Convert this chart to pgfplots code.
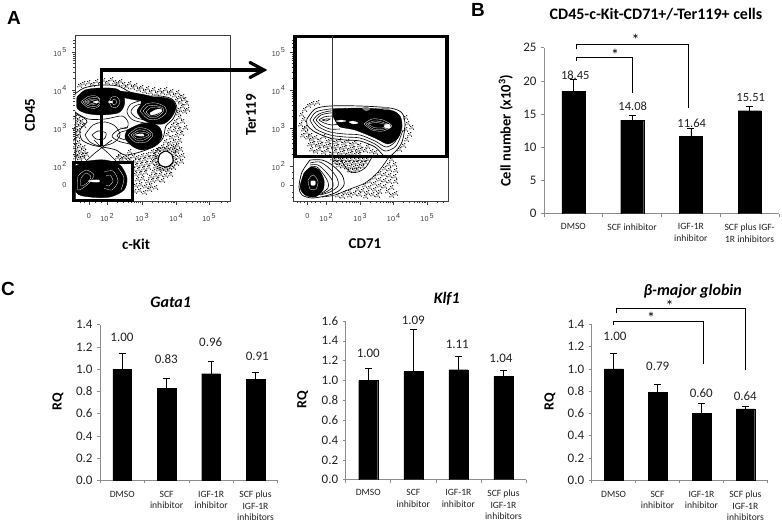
\documentclass[border=0pt]{standalone}
\usepackage{pgfplots}
\pgfplotsset{compat=1.18}
\usepackage{fontspec}
\setmainfont{Carlito}
\newfontfamily\arial{Liberation Sans}
\usetikzlibrary{arrows.meta}
\newcommand{\ex}[1]{10\raisebox{3.5pt}{\hspace{1pt}#1}}
\definecolor{axg}{HTML}{8C8C8C}
\definecolor{txt}{HTML}{222222}
\pgfplotsset{
 flow/.style={scale only axis,width=155pt,height=166pt,anchor=north west,
  ymin=35.7,ymax=201.7,y dir=reverse,
  axis line style={black!75,line width=.45pt},
  tick align=outside,xtick pos=bottom,ytick pos=left,
  major tick length=3pt,minor tick length=1.6pt,
  tick style={black!75,line width=.35pt},
  ytick={52,90,128,166,185},
  yticklabels={\ex{5},\ex{4},\ex{3},\ex{2},0},
  minor ytick={40.6,43,47,78.6,71.9,67.1,63.4,60.4,57.9,55.7,53.7,116.6,109.9,105.1,101.4,98.4,95.9,93.7,91.7,154.6,147.9,143.1,139.4,136.4,133.9,131.7,129.7,172,178,192,197},
  xticklabels={0,\ex{2},\ex{3},\ex{4},\ex{5}},
  tick label style={font=\arial\fontsize{7.2}{8}\selectfont,text=black!75},
  xticklabel style={yshift=-5pt},
  yticklabel style={xshift=-2pt},
 },
 ct/.style={smooth,black,line width=.6pt},
 wt/.style={smooth,white,line width=.28pt},
 bk/.style={smooth,black,fill=black,line width=.3pt},
 wf/.style={smooth,black,fill=white,line width=.7pt},
 wc/.style={smooth,white,fill=white,line width=.2pt},
 dots/.style={only marks,mark=*,mark size=.32pt,mark options={black,draw=none,fill=black}},
 bars/.style={scale only axis,anchor=south west,axis lines=left,axis line style={-,axg,line width=.7pt},
  xmin=-.5,xmax=3.5,ymin=0,xtick={0,1,2,3},enlargelimits=false,
  minor xtick={-.5,.5,1.5,2.5,3.5},tick align=outside,
  major tick length=3pt,minor tick length=3pt,
  major x tick style={draw=none},minor x tick style={axg,line width=.6pt},
  y tick style={axg,line width=.6pt},
  ybar,
  /pgf/number format/assume math mode=true,
  yticklabel style={font=\fontsize{13}{14}\selectfont,text=txt,xshift=-1pt},
  x tick label style={align=center,anchor=north,text=txt},
 },
 bp/.style={black,fill=black,line width=.2pt,
  error bars/.cd,y dir=plus,y explicit,
  error bar style={black,line width=.7pt},
  error mark options={rotate=90,black,mark size=3.4pt,line width=.7pt}},
}
\newcommand{\DOTS}[1]{%
 \addplot[dots] coordinates {#1};
 \addplot[dots,xshift=1.6pt,yshift=-1.2pt] coordinates {#1};
 \addplot[dots,xshift=-1.3pt,yshift=1.5pt] coordinates {#1};
 \addplot[dots,xshift=.7pt,yshift=2.3pt] coordinates {#1};
 \addplot[dots,xshift=-2.1pt,yshift=-.8pt] coordinates {#1};}
\begin{document}
\begin{tikzpicture}
\path[use as bounding box] (0,0) rectangle (782pt,-522pt);

%%% A left
\begin{axis}[flow,at={(75pt,-35.7pt)},xmin=75,xmax=230,
 xtick={89,107,142,176,209},
 minor xtick={80,84,95,101,117.4,123.5,127.8,131.1,133.8,136.2,138.2,139.9,151.9,158,162.3,165.6,168.3,170.7,172.7,174.4,186.4,192.5,196.8,200.1,202.8,205.2,207.2,220.9,227}]
\DOTS{(80,86)(84,84)(89,83)(93,85)(97,82)(101,84)(104,81)(108,83)(112,80)(115,83)(118,84)(121,82)(124,85)(127,87)(130,84)(133,88)(136,86)(139,90)(142,88)(145,92)(148,89)(151,93)(154,90)(157,94)(160,91)(163,93)(166,90)(169,94)(172,92)(175,96)(178,93)(180,98)(177,101)(183,97)(181,103)(185,100)(183,107)(187,104)(180,110)(185,112)(179,114)(188,110)
(176,122)(180,118)(173,126)(178,126)(183,122)(170,130)(175,131)(180,130)(168,135)(172,138)(177,136)(182,134)(166,142)(170,144)(175,142)(180,141)(186,128)(163,147)(168,148)(173,147)(178,146)
(158,150)(153,152)(148,155)(143,156)(138,158)(134,157)(130,160)(128,158)(135,162)(140,161)(145,160)(150,158)(155,157)(137,166)(142,165)(147,164)(152,163)(156,167)(134,170)(139,170)(144,169)(149,168)(154,172)(159,170)(164,170)(169,171)(174,168)(177,164)(179,158)(177,152)(175,148)(181,150)(183,156)(182,162)(136,175)(141,174)(146,173)(151,177)(156,176)(161,175)(166,176)(171,175)(138,180)(143,179)(148,182)(153,181)(158,180)(163,181)(136,186)(141,185)(146,187)(151,186)(156,188)(135,192)(140,191)(145,193)(150,190)
(157,152)(155,155)(157,158)(155,161)(157,164)(159,168)(162,169)(166,169)(170,168)(172,166)(175,162)(175,158)(175,154)(174,151)(170,150)(166,149)(162,150)(159,150)
(76,118)(79,120)(82,122)(77,124)(80,126)(84,126)(76,129)(79,131)(76,134)(78,137)(76,140)(79,143)(76,146)(80,147)(84,148)(77,150)(81,152)(85,152)(76,154)(79,156)(83,156)(87,155)(76,158)(80,159)(84,158)
(120,156)(125,158)(130,152)(122,160)(118,158)}
% envelope
\addplot[wf] coordinates {(75,94)(84,88)(100,85)(118,86)(130,92)(145,96)(160,96)(172,99)(177,108)(173,119)(166,126)(163,138)(155,146)(140,152)(125,155)(116,150)(108,148)(102,147)(92,145)(82,140)(80,130)(87,122)(84,118)(75,112)(75,94)};
\addplot[ct] coordinates {(86,161)(95,153)(104,146)(112,140)};
\addplot[ct] coordinates {(116,161)(108,153)(100,146)(94,140)};
\addplot[ct] coordinates {(85,135)(93,125)(105,122)(115,126)(120,135)(113,143)(100,146)(90,142)(85,135)};
\addplot[ct] coordinates {(92,135)(98,131)(106,133)(104,139)(96,139)(92,135)};
\addplot[ct] coordinates {(75,112)(88,119)(105,119)(122,116)(128,122)(127,128)(120,128)};
% top-left lobe
\addplot[bk] coordinates {(77,97)(85,90)(100,88)(117,89)(124,97)(124,106)(118,113)(100,115)(85,113)(77,108)(77,97)};
\addplot[wt] coordinates {(81,102)(88,96.5)(96,96)(102,102)(96,108)(88,107.5)(81,102)};
\addplot[wt] coordinates {(83,102)(90,98)(98,98)(100,102)(97,106)(89,106)(83,102)};
\addplot[wt] coordinates {(85,102)(91,99.5)(97,100)(98,102)(96,104)(90,104.5)(85,102)};
\addplot[wt] coordinates {(87,102)(92,100.5)(96,102)(92,103.5)(87,102)};
\addplot[wt] coordinates {(109,102)(112,97)(117,97)(120,102)(117,107)(112,107)(109,102)};
\addplot[wt] coordinates {(111,102)(114,99)(117,102)(114,105)(111,102)};
\addplot[wc] coordinates {(93,102)(96,101)(99,102)(96,103)(93,102)};
\addplot[wc] coordinates {(108,102)(111,101)(113,102)(111,103)(108,102)};
% band + right lobe
\addplot[bk] coordinates {(120,91)(135,93)(150,96)(160,100)(150,102)(130,99)(120,96)(120,91)};
\addplot[ct] coordinates {(143,100)(131,104)(127,112)(133,120)(150,124)};
\addplot[ct] coordinates {(145,103)(135,106)(131,112)(137,118)(150,121)};
\addplot[bk] coordinates {(141,98)(160,97)(172,100)(176,108)(171,118)(163,124)(150,123)(141,118)(137,111)(141,104)(141,98)};
\addplot[wt] coordinates {(140,111)(146,104)(156,103)(165,107)(166,113)(158,119)(148,119)(140,111)};
\addplot[wt] coordinates {(143,111)(148,106)(156,105.5)(163,108)(163,112)(157,117)(149,117)(143,111)};
\addplot[wt] coordinates {(146,112)(150,108)(157,107)(162,109)(160,113)(156,115.5)(150,116)(146,112)};
\addplot[wc] coordinates {(150,113)(155,110)(160,109)(162,111)(156,114)(151,115)(150,113)};
% lower lobe
\addplot[ct] coordinates {(128,127)(118,130)(112,136)(118,141)(130,144)};
\addplot[ct] coordinates {(130,130)(121,132)(117,136)(122,139)(132,141)};
\addplot[bk] coordinates {(127,130)(140,124)(152,123)(160,128)(162,137)(155,146)(142,150)(132,146)(125,138)(127,130)};
\addplot[wt] coordinates {(128,135)(137,128)(147,129)(153,135)(146,142)(135,142)(128,135)};
\addplot[wt] coordinates {(131,135)(138,130)(146,131)(151,135)(144,140)(136,140)(131,135)};
\addplot[wt] coordinates {(133,135)(139,132)(146,133)(149,135)(143,138)(136,138)(133,135)};
\addplot[wc] coordinates {(135,135)(139,134)(143,134)(144,136)(139,136)(135,135)};
% bottom population
\addplot[bk] coordinates {(75,166)(88,161)(105,160)(120,165)(127,178)(124,190)(110,197)(90,197)(76,192)(75,166)};
\addplot[wt] coordinates {(78,176)(86,170)(94,175)(88,184)(78,190)(78,176)};
\addplot[wt] coordinates {(81,178)(86,173)(91,177)(87,183)(81,186)(81,178)};
\addplot[wt] coordinates {(104,172)(113,171)(118,181)(112,190)(104,188)};
\addplot[wt] coordinates {(106,176)(110,175)(113,181)(109,186)(106,185)};
\addplot[wt] coordinates {(118,168)(124,178)(121,190)};
\addplot[wc] coordinates {(88,181)(93,180)(99,180)(99,182)(93,182)(88,181)};
% hole
\addplot[smooth,black,fill=white,line width=1.1pt] coordinates {(160,154)(166,151)(172,155)(173,162)(167,167)(160,165)(158,160)(160,154)};
\end{axis}

%%% A right
\begin{axis}[flow,at={(293.3pt,-35.7pt)},xmin=293.3,xmax=448.3,
 xtick={307.3,326,360,393.5,427},
 minor xtick={297,300,304,311,315,320,336.1,342,346.2,349.4,352.1,354.3,356.3,358,370.1,376,380.2,383.4,386.1,388.3,390.3,392,403.6,409.5,413.7,416.9,419.6,421.8,423.8,425.5,437.1,443}]
\DOTS{(302,115)(304,120)(301,125)(304,130)(307,133)(303,136)(308,138)(311,136)(306,128)(305,110)(309,106)(313,104)(318,103)
(312,140)(316,138)(320,141)(324,137)(328,142)(332,140)(336,143)(340,141)(344,144)(348,142)(352,145)(356,143)(360,146)(310,145)(314,144)(318,146)(322,145)(326,147)(330,146)(334,148)(338,147)(342,149)(346,148)(350,150)(354,149)(358,151)(362,150)(366,151)(312,150)(316,152)(320,150)(324,153)(328,151)(332,154)(336,152)(340,154)(344,153)(348,155)(352,154)(356,155)(360,155)(368,147)(372,152)(376,153)
(406,118)(408,124)(406,130)(410,135)(407,140)(404,146)(400,150)(412,128)
(336,160)(340,160)(344,160)(348,160)(352,160)(356,160)(360,160)(364,160)(368,160)(338,163)(342,163)(346,164)(350,163)(354,164)(358,163)(362,164)(366,163)(343,167)(347,168)(351,167)(355,168)(359,167)(363,167)(350,171)(354,171)(358,170)(333,159)(335,163)(339,166)
(392,160)(389,165)(395,165)(385,169)(390,170)(396,171)(380,174)(385,175)(390,176)(395,177)(375,178)(380,180)(385,181)(390,182)(396,182)(370,182)(375,184)(380,186)(385,187)(392,188)(365,186)(370,188)(375,190)(380,192)(388,192)(396,194)(358,190)(363,191)(368,193)(373,195)(378,196)(350,192)(355,194)(360,195)(366,197)(345,193)(350,196)(338,196)(343,197)(392,196)}
% band
\addplot[wf] coordinates {(307,119)(315,109)(330,106)(360,106)(390,108)(402,113)(405,125)(402,142)(395,152)(387,158)(382,154)(375,147)(360,141)(345,140)(330,138)(315,132)(307,125)(307,119)};
\addplot[ct] coordinates {(310,120)(316,112)(330,109)(345,109)};
\addplot[ct] coordinates {(310,120)(316,129)(330,135)(345,137)(360,138)(375,144)(385,151)(396,146)(403,130)};
\addplot[ct] coordinates {(313,120)(319,114)(330,111)(345,111)};
\addplot[ct] coordinates {(313,120)(319,127)(330,132)(345,134)(360,135)(375,141)(386,147)(395,142)(401,130)};
\addplot[ct] coordinates {(316,120)(321,115)(330,113)(340,113)};
\addplot[ct] coordinates {(316,120)(321,125)(330,129)(340,129)};
\addplot[ct] coordinates {(319,120)(324,117)(332,116)(338,117)};
\addplot[ct] coordinates {(319,120)(324,123)(332,125)(338,124)};
\addplot[ct] coordinates {(322,120)(326,119)(330,119)(326,121)(322,120)};
\addplot[bk] coordinates {(333,109)(360,108)(390,110)(400,116)(402,127)(398,138)(388,144)(375,138)(355,130)(340,127)(336,122)(333,116)(333,109)};
\addplot[wc] coordinates {(336,121)(341,120)(346,121)(341,122)(336,121)};
\addplot[wc] coordinates {(349,122)(353,121)(358,123)(353,124)(349,122)};
\addplot[wt] coordinates {(364,124)(372,119)(383,120)(392,126)(383,131)(372,130)(364,124)};
\addplot[wt] coordinates {(366,124)(374,121)(382,122)(390,126)(382,129.5)(373,129)(366,124)};
\addplot[wt] coordinates {(368,124)(375,122.5)(382,123.5)(388,126)(382,128)(374,127.5)(368,124)};
\addplot[wc] coordinates {(384,126)(387,124)(390,125)(390,128)(386,128)(384,126)};
\addplot[smooth,gray,fill=gray,line width=.2pt] coordinates {(362,108)(367,107)(370,109)(366,111)(362,108)};
\addplot[smooth,gray,fill=gray,line width=.2pt] coordinates {(381,108)(386,107)(389,109)(385,110)(381,108)};
% lower lines
\addplot[ct] coordinates {(340,157)(344,165)(350,172)(358,172)(366,167)(372,157)};
\addplot[ct] coordinates {(389,157)(378,172)(365,183)(350,189)(335,195)(322,197)};
% bottom population
\addplot[wf] coordinates {(310,160)(322,160)(332,165)(342,175)(344,185)(337,192)(325,196)(312,198)(302,195)(299,187)(302,172)(310,160)};
\addplot[ct] coordinates {(310,163)(320,162)(330,169)(337,178)(338,186)(330,192)(320,195)};
\addplot[ct] coordinates {(310,165)(318,165)(326,172)(332,180)(333,187)(326,192)(318,195)};
\addplot[ct] coordinates {(310,167)(317,167)(324,175)(328,182)(328,188)(322,193)};
\addplot[bk] coordinates {(304,173)(311,167)(319,170)(324,180)(323,190)(315,197)(305,195)(300,187)(304,173)};
\addplot[wt] coordinates {(308,180)(313,175)(318,181)(316,189)(310,189)(308,180)};
\addplot[wc] coordinates {(311,181)(315,181)(315,185)(311,185)(311,181)};
\end{axis}

%%% B
\begin{axis}[bars,at={(544pt,-213.7pt)},width=235pt,height=166pt,ymax=25,ytick={0,5,...,25},
 bar width=23pt,
 xticklabels={DMSO,{SCF inhibitor},{IGF-1R\\inhibitor},{SCF plus IGF-\\1R inhibitors}},
 x tick label style={font=\fontsize{9.6}{11.7}\selectfont,yshift=-3.5pt},
 yticklabel style={font=\fontsize{13}{14}\selectfont}]
\addplot[bp] coordinates {(0,18.45) +- (0,1.75) (1,14.08) +- (0,.72) (2,11.64) +- (0,1.26) (3,15.51) +- (0,.59)};
\end{axis}

%%% C1
\begin{axis}[bars,at={(100pt,-480.3pt)},width=177.7pt,height=155.6pt,ymax=1.4,
 ytick={0,.2,...,1.41},bar width=18.7pt,
 yticklabel style={/pgf/number format/.cd,fixed,fixed zerofill,precision=1},
 xticklabels={DMSO,{SCF\\inhibitor},{IGF-1R\\inhibitor},{SCF plus\\IGF-1R\\inhibitors}},
 x tick label style={font=\fontsize{9.6}{11.7}\selectfont,yshift=-4pt}]
\addplot[bp] coordinates {(0,1) +- (0,.14) (1,.83) +- (0,.09) (2,.96) +- (0,.11) (3,.91) +- (0,.06)};
\end{axis}

%%% C2
\begin{axis}[bars,at={(345.7pt,-479.7pt)},width=180.3pt,height=158.7pt,ymax=1.6,
 ytick={0,.2,...,1.61},bar width=19pt,
 yticklabel style={/pgf/number format/.cd,fixed,fixed zerofill,precision=1},
 xticklabels={DMSO,{SCF\\inhibitor},{IGF-1R\\inhibitor},{SCF plus\\IGF-1R\\inhibitors}},
 x tick label style={font=\fontsize{9.6}{11.7}\selectfont,yshift=-3.5pt}]
\addplot[bp] coordinates {(0,1) +- (0,.12) (1,1.09) +- (0,.425) (2,1.11) +- (0,.13) (3,1.04) +- (0,.065)};
\end{axis}

%%% C3
\begin{axis}[bars,at={(591.7pt,-480.3pt)},width=175.6pt,height=156pt,ymax=1.4,
 ytick={0,.2,...,1.41},bar width=18.7pt,
 yticklabel style={/pgf/number format/.cd,fixed,fixed zerofill,precision=1},
 xticklabels={DMSO,{SCF\\inhibitor},{IGF-1R\\inhibitor},{SCF plus\\IGF-1R\\inhibitors}},
 x tick label style={font=\fontsize{9.6}{11.7}\selectfont,yshift=-4pt}]
\addplot[bp] coordinates {(0,1) +- (0,.14) (1,.79) +- (0,.07) (2,.60) +- (0,.09) (3,.64) +- (0,.02)};
\end{axis}

\begin{scope}[x=1pt,y=-1pt]
% gates
\draw[line width=3.4pt,miter limit=2] (73.5,162.5) rectangle (132.5,200.5);
\draw[line width=3.4pt] (295,36.5) rectangle (447,156.5);
\draw[black!80,line width=.5pt] (332.3,36) -- (332.3,201.7);
\draw[line width=3.2pt] (101.7,146) -- (101.7,70) -- (263,70);
\draw[line width=3.2pt,line cap=round] (250,62.5) -- (264,70) -- (250,77.5);
% letters
\node[font=\arial\bfseries\fontsize{19}{22}\selectfont] at (14,18) {A};
\node[font=\arial\bfseries\fontsize{19}{22}\selectfont] at (478,10) {B};
\node[font=\arial\bfseries\fontsize{19}{22}\selectfont] at (8,289) {C};
% panel A labels
\node[font=\bfseries\fontsize{15}{17}\selectfont,rotate=90] at (30,115) {CD45};
\node[font=\bfseries\fontsize{15}{17}\selectfont] at (136,244) {c-Kit};
\node[font=\bfseries\fontsize{15}{17}\selectfont,rotate=90] at (251,115) {Ter119};
\node[font=\bfseries\fontsize{15}{17}\selectfont] at (365,244) {CD71};
% B
\node[font=\bfseries\fontsize{16}{18}\selectfont] at (656,14) {CD45-c-Kit-CD71+/-Ter119+ cells};
\node[font=\bfseries\fontsize{14.5}{16}\selectfont,rotate=90] at (505.7,130.7) {Cell number (x10\textsuperscript{3})};
\begin{scope}[every node/.style={font=\fontsize{12.5}{14}\selectfont,text=txt}]
\node at (575.3,75) {18.45};
\node at (632.7,106.7) {14.08};
\node at (691.7,123.3) {11.64};
\node at (750.7,97.3) {15.51};
\end{scope}
\draw[line width=.8pt] (576,49.3) -- (576,44.3) -- (688.3,44.3) -- (688.3,108);
\draw[line width=.8pt] (576,61) -- (576,57.7) -- (632.3,57.7) -- (632.3,93.3);
\node[font=\fontsize{16}{18}\selectfont] at (635.7,39.5) {*};
\node[font=\fontsize{16}{18}\selectfont] at (615,54.5) {*};
% C titles etc
\node[font=\bfseries\itshape\fontsize{16}{18}\selectfont] at (170.7,302) {Gata1};
\node[font=\bfseries\itshape\fontsize{16}{18}\selectfont] at (446.7,299) {Klf1};
\node[font=\bfseries\itshape\fontsize{16}{18}\selectfont] at (692.7,291) {β-major globin};
\node[font=\bfseries\fontsize{14}{16}\selectfont,rotate=90] at (58,402) {RQ};
\node[font=\bfseries\fontsize{14}{16}\selectfont,rotate=90] at (302.7,400) {RQ};
\node[font=\bfseries\fontsize{14}{16}\selectfont,rotate=90] at (550,402) {RQ};
\begin{scope}[every node/.style={font=\fontsize{13}{14}\selectfont,text=txt}]
\node at (122,337.7) {1.00};
\node at (166.3,359) {0.83};
\node at (210.7,342.3) {0.96};
\node at (257.3,356.7) {0.91};
\node at (368.3,353.3) {1.00};
\node at (413.3,320.7) {1.09};
\node at (457.3,344.7) {1.11};
\node at (501,358) {1.04};
\node at (615,336.7) {1.00};
\node at (657.7,366.7) {0.79};
\node at (701.3,392.7) {0.60};
\node at (745.3,396) {0.64};
\end{scope}
\draw[line width=.8pt] (616,313.3) -- (616,308.3) -- (745,308.3) -- (745,370);
\draw[line width=.8pt] (613.3,325) -- (613.3,321.7) -- (703.7,321.7) -- (703.7,364);
\node[font=\fontsize{16}{18}\selectfont] at (669.7,305.5) {*};
\node[font=\fontsize{16}{18}\selectfont] at (651,317.5) {*};
\end{scope}
\end{tikzpicture}
\end{document}
